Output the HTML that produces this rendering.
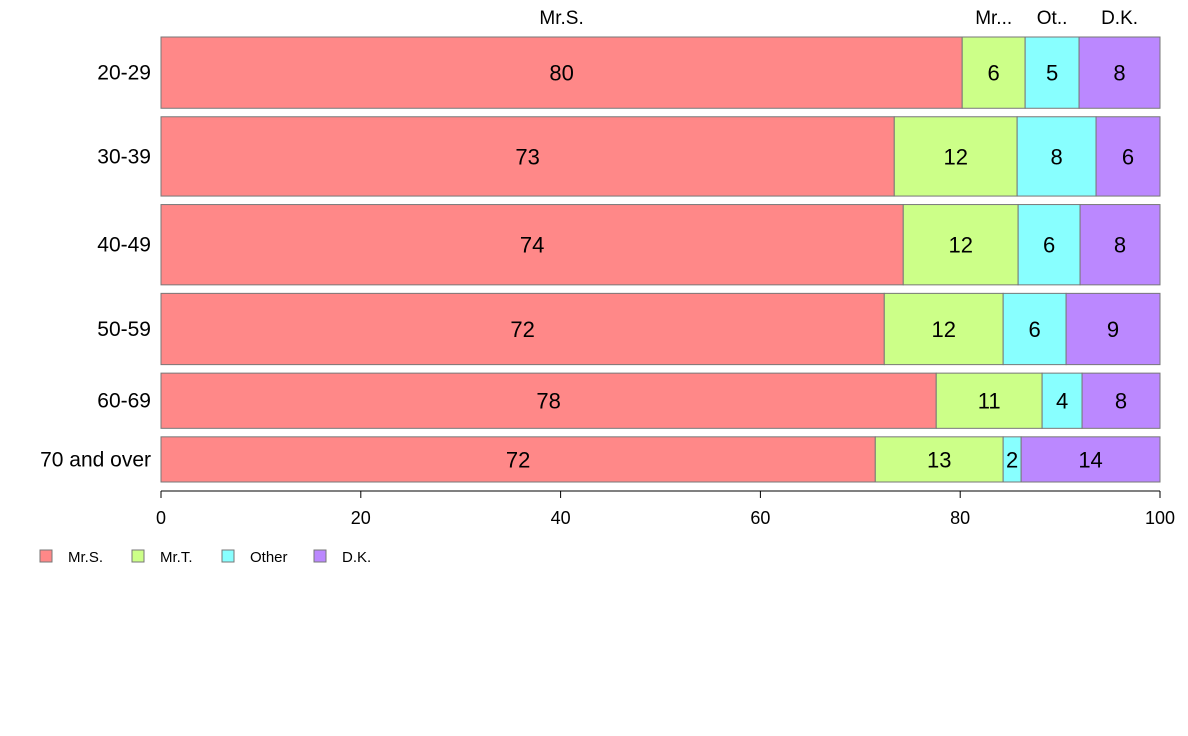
<!DOCTYPE html>
<html><head><meta charset="utf-8"><style>
body{margin:0;background:#fff;}
svg{display:block;font-family:"Liberation Sans",Arial,sans-serif;}
</style></head><body>
<svg id="chart" width="1188" height="736"></svg>
<script>
const categories = ["20-29","30-39","40-49","50-59","60-69","70 and over"];
const seriesNames = ["Mr.S.","Mr.T.","Other","D.K."];
const mrS   = [80.2,73.4,74.3,72.4,77.6,71.5];
const mrT   = [6.3,12.3,11.5,11.9,10.6,12.8];
const other = [5.4,7.9,6.2,6.3,4.0,1.8];
const dk    = [8.1,6.4,8.0,9.4,7.8,13.9];
const rowWeights = [71,79,80,71,55,45];
const topLabels = ["Mr.S.","Mr...","Ot..","D.K."];
const xTicks = [0,20,40,60,80,100];

const colors = ["#FF8888","#CCFF88","#88FFFF","#BB88FF"];
const series = [mrS,mrT,other,dk];
const svg = document.getElementById('chart');
const NS = "http://www.w3.org/2000/svg";
const x0 = 161, x1 = 1160, yTop = 37, yBot = 482, gap = 8.5;
const xs = v => x0 + (x1 - x0) * v / 100;
function mk(tag, attrs, parent){const e=document.createElementNS(NS,tag);for(const k in attrs)e.setAttribute(k,attrs[k]);(parent||svg).appendChild(e);return e;}
const totalW = rowWeights.reduce((a,b)=>a+b,0);
const avail = (yBot - yTop) - gap*(categories.length-1);
let y = yTop;
categories.forEach((cat,i)=>{
  const h = avail * rowWeights[i] / totalW;
  const g = mk('g',{});
  
  
  const lab = mk('text',{x:151,y:y+h/2+7,'text-anchor':'end','font-size':21,fill:'#000'},g);
  lab.textContent = cat;
  
  
  let cum = 0;
  series.forEach((s,j)=>{
    const v = s[i];
    const r = mk('rect',{x:xs(cum),y:y,width:xs(cum+v)-xs(cum),height:h,fill:colors[j],stroke:'#777','stroke-width':1},g);
    
    
    const t = mk('text',{x:(xs(cum)+xs(cum+v))/2,y:y+h/2+8,'text-anchor':'middle','font-size':22,fill:'#000'},g);
    t.textContent = Math.round(v);
    
    
    if(i===0){
      const tl = mk('text',{x:(xs(cum)+xs(cum+v))/2,y:24,'text-anchor':'middle','font-size':19,fill:'#000'});
      tl.textContent = topLabels[j];
      
      
    }
    cum += v;
  });
  y += h + gap;
});
// x axis
const ax = mk('g',{});


mk('line',{x1:x0,x2:x1,y1:491,y2:491,stroke:'#000','stroke-width':1},ax);
xTicks.forEach(t=>{
  mk('line',{x1:xs(t),x2:xs(t),y1:491,y2:498,stroke:'#000'},ax);
  const tt = mk('text',{x:xs(t),y:524,'text-anchor':'middle','font-size':18,fill:'#000'},ax);
  tt.textContent = t;
  
  
});
// legend
const lx = [40,132,222,314];
const lg = mk('g',{});


seriesNames.forEach((n,j)=>{
  const e = mk('g',{},lg);
  
  
  mk('rect',{x:lx[j],y:550,width:12,height:12,fill:colors[j],stroke:'#777'},e);
  const t = mk('text',{x:lx[j]+28,y:562,'font-size':15,fill:'#000'},e);
  t.textContent = n;
});
</script>
</body></html>
